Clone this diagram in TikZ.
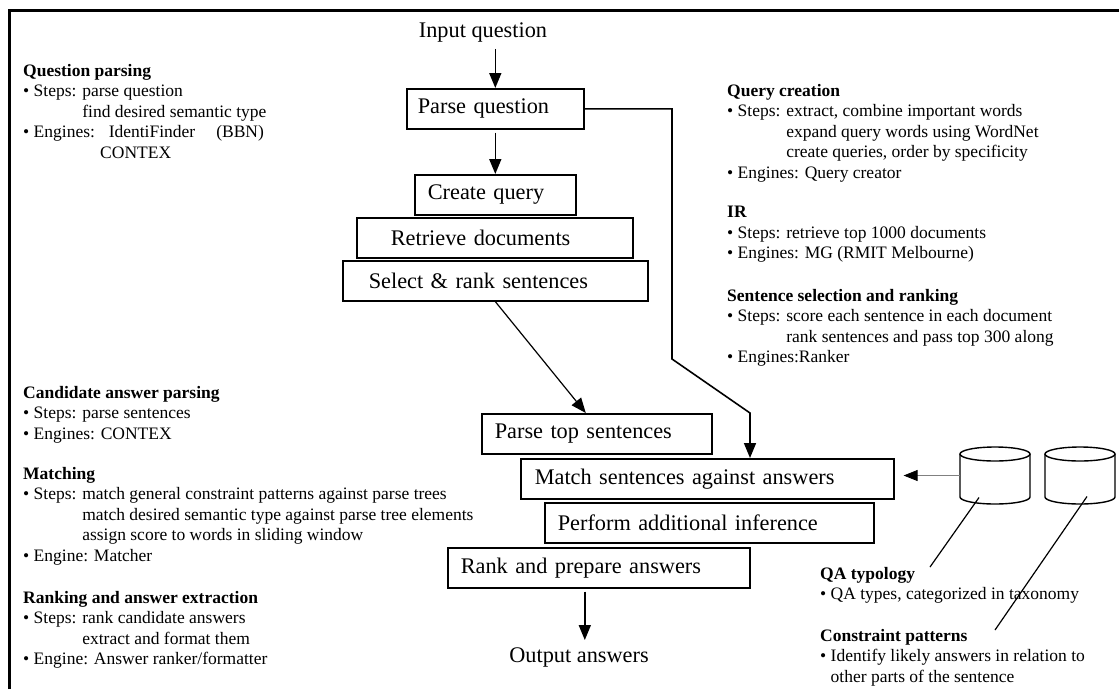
\documentclass[tikz,border=0pt]{standalone}
\usepackage{fontspec}
\setmainfont{Liberation Serif}
\usetikzlibrary{arrows.meta}

\newcommand{\boxfont}{\fontsize{22.3}{26}\selectfont}
\newcommand{\notefont}{\fontsize{17.5}{20.5}\selectfont}
\newcommand{\stepind}{\phantom{• Steps: }}

\begin{document}
\begin{tikzpicture}[x=1pt,y=-1pt,
    stage/.style={draw,line width=1.6pt,anchor=north west,minimum height=40pt,
                  inner ysep=0pt,align=left,font=\boxfont},
    note/.style={anchor=north west,inner sep=0pt,align=left,font=\notefont},
    flow/.style={line width=1.6pt,-{Triangle[length=15pt,width=12pt]}},
    dbline/.style={line width=1.4pt}]
    \useasboundingbox (0,0) rectangle (1119,689);

    % frame
    \draw[line width=3pt] (9,689) -- (9,10) -- (1119,10);

    \begin{scope}
    % main pipeline
    \node[font=\boxfont,inner sep=0pt] (iq) at (483,32) {Input question};
    \node[stage,inner xsep=11pt,text width=155pt] (pq) at (406,88)  {Parse question};
    \node[stage,inner xsep=13pt,text width=135pt] (cq) at (414,174) {Create query};
    \node[stage,inner xsep=34pt,text width=208pt] (rd) at (356,217) {Retrieve documents};
    \node[stage,inner xsep=26pt,text width=253pt] (sr) at (342,260) {Select \& rank sentences};
    \node[stage,inner xsep=13pt,text width=204pt] (pt) at (481,413) {Parse top sentences};
    \node[stage,inner xsep=14pt,text width=345pt] (ms) at (520,458) {Match sentences against answers};
    \node[stage,inner xsep=13pt,text width=303pt] (pa) at (544,502) {Perform additional inference};
    \node[stage,inner xsep=13pt,text width=276pt] (ra) at (447,547) {Rank and prepare answers};
    \node[font=\boxfont,inner sep=0pt] (oa) at (579,657) {Output answers};

    % knowledge bases
    \foreach \cx/\dbname in {995/qadb,1080/cpdb} {
        \draw[dbline] (\cx-35,454) -- (\cx-35,497)
            arc[start angle=180,end angle=0,x radius=35,y radius=7] -- (\cx+35,454);
        \draw[dbline] (\cx,454) ellipse[x radius=35,y radius=7];
        \node[minimum width=70pt,minimum height=57pt,inner sep=0pt] (\dbname) at (\cx,475.5) {};
    }
    \coordinate (bendA) at (672,359);
    \coordinate (bendB) at (750,413);
    \coordinate (qaend) at (930,567);
    \coordinate (cpend) at (995,630);

    \draw[flow,shorten <=7pt] (pq.north |- iq.south) -- (pq.north);
    \draw[flow,shorten <=3pt] (pq.south) -- (pq.south |- cq.north);
    \draw[flow] (pq.east) -| (bendA) -- (bendB) -- (bendB |- ms.north);
    \draw[flow,line width=1.2pt] (sr.south) -- ([xshift=-11pt]pt.north);
    \draw[flow,shorten <=3pt,shorten >=7pt] ([xshift=-14pt]ra.south) -- ([xshift=-14pt]ra.south |- oa.north);
    \draw[gray,line width=0.8pt,-{Triangle[length=14pt,width=11pt,color=black]}]
        (qadb.west) -- ([xshift=9pt]qadb.west -| ms.east);
    \draw[line width=1.2pt] ([shift={(-16,22)}]qadb.center) -- (qaend);
    \draw[line width=1.2pt] ([shift={(7,21)}]cpdb.center) -- (cpend);
    \end{scope}

    \begin{scope}
    % left notes
    \node[note] (qpinfo) at (23,64) {\textbf{Question parsing}\\
        • Steps: parse question\\
        \stepind find desired semantic type\\
        • Engines:\hspace{8pt} IdentiFinder\hspace{21pt}(BBN)\\
        \hspace*{77pt}CONTEX};
    \node[note] (cainfo) at (23,386) {\textbf{Candidate answer parsing}\\
        • Steps: parse sentences\\
        • Engines: CONTEX};
    \node[note] (mtinfo) at (23,467) {\textbf{Matching}\\
        • Steps: match general constraint patterns against parse trees\\
        \stepind match desired semantic type against parse tree elements\\
        \stepind assign score to words in sliding window\\
        • Engine: Matcher};
    \node[note] (rkinfo) at (23,591) {\textbf{Ranking and answer extraction}\\
        • Steps: rank candidate answers\\
        \stepind extract and format them\\
        • Engine: Answer ranker/formatter};

    % right notes
    \node[note] (qcinfo) at (727,84) {\textbf{Query creation}\\
        • Steps: extract, combine important words\\
        \stepind expand query words using WordNet\\
        \stepind create queries, order by specificity\\
        • Engines: Query creator};
    \node[note] (irinfo) at (727,206) {\textbf{IR}\\
        • Steps: retrieve top 1000 documents\\
        • Engines: MG (RMIT Melbourne)};
    \node[note] (ssinfo) at (727,289) {\textbf{Sentence selection and ranking}\\
        • Steps: score each sentence in each document\\
        \stepind rank sentences and pass top 300 along\\
        • Engines:Ranker};
    \node[note] (qtinfo) at (820,567) {\textbf{QA typology}\\
        • QA types, categorized in taxonomy};
    \node[note] (cpinfo) at (820,629) {\textbf{Constraint patterns}\\
        • Identify likely answers in relation to\\
        \phantom{• }other parts of the sentence};
    \end{scope}
\end{tikzpicture}
\end{document}
